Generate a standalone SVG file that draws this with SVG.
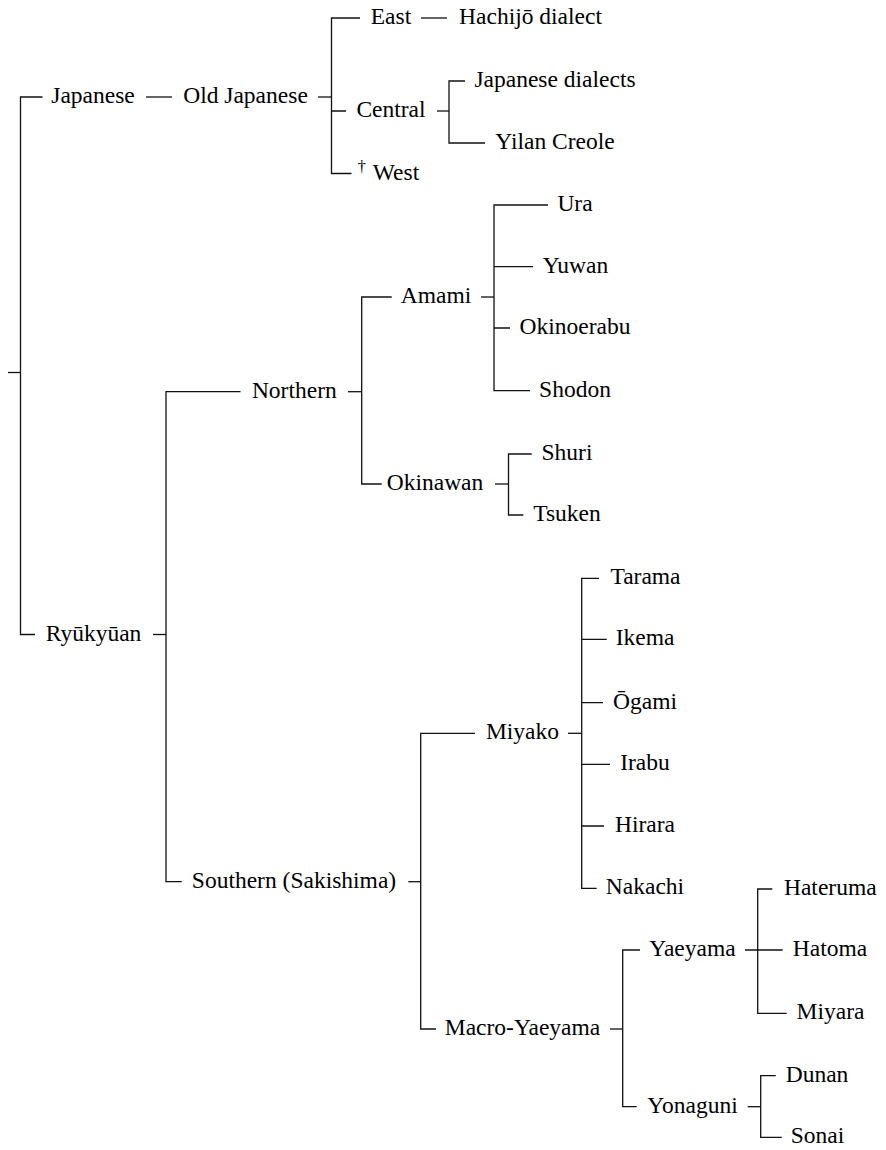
<svg xmlns="http://www.w3.org/2000/svg" width="886" height="1150" viewBox="0 0 886 1150">
  <style>
    .edge { fill: none; stroke: #111; stroke-width: 1.3; }
    .lbl { font-size: 23.5px; fill: #000; text-anchor: middle; }
    .sup { font-size: 17px; fill: #000; }
  </style>
  <rect width="886" height="1150" fill="#fff"/>

  <!-- tree connectors -->
  <g id="connectors" class="edge">
    <path d="M8,372.5 H20.5"/>
    <path d="M42.5,97 H20.5 V634.5 H35"/>
    <path d="M146,97 H172"/>
    <path d="M318,97 H331.5"/>
    <path d="M360,18 H331.5 V173.5 H351.5 M331.5,111 H346"/>
    <path d="M421,18 H447"/>
    <path d="M437,111 H449"/>
    <path d="M465,81 H449 V143 H485"/>
    <path d="M153,634.5 H166"/>
    <path d="M240.5,391.7 H166 V881.7 H181.7"/>
    <path d="M348,391.7 H361.7"/>
    <path d="M391.7,297 H361.7 V484 H381.7"/>
    <path d="M481,297 H494"/>
    <path d="M548,205 H494 V390.7 H530 M494,266.7 H533 M494,328 H510"/>
    <path d="M495,484 H508.5"/>
    <path d="M531.7,454 H508.5 V515 H523.3"/>
    <path d="M408.3,881.7 H420.7"/>
    <path d="M475,733.3 H420.7 V1029 H436"/>
    <path d="M568,733.3 H581.7"/>
    <path d="M599,578.3 H581.7 V888.3 H596.7 M581.7,639.3 H606.7 M581.7,702.7 H603 M581.7,764.3 H610 M581.7,826 H604"/>
    <path d="M610,1029 H622.7"/>
    <path d="M640,950 H622.7 V1106.7 H636.7"/>
    <path d="M745,950 H782.7"/>
    <path d="M772.3,889 H757.7 V1013.3 H786.7"/>
    <path d="M747.7,1106.7 H760.7"/>
    <path d="M775.7,1075.7 H760.7 V1137.3 H781.7"/>
  </g>

  <!-- language nodes -->
  <g font-family="'Liberation Serif', 'DejaVu Serif', serif">
  <g id="japanese"><text class="lbl" x="93" y="103">Japanese</text></g>
  <g id="old-japanese"><text class="lbl" x="245.5" y="103">Old Japanese</text></g>
  <g id="east"><text class="lbl" x="391" y="24">East</text></g>
  <g id="hachijo"><text class="lbl" x="530.5" y="24">Hachijō dialect</text></g>
  <g id="central"><text class="lbl" x="391" y="117">Central</text></g>
  <g id="japanese-dialects"><text class="lbl" x="555" y="87">Japanese dialects</text></g>
  <g id="yilan-creole"><text class="lbl" x="555" y="149">Yilan Creole</text></g>
  <g id="west">
    <text class="sup" x="357.5" y="172">†</text>
    <text class="lbl" x="396" y="179.5">West</text>
  </g>

  <g id="ryukyuan"><text class="lbl" x="93.5" y="640.5">Ryūkyūan</text></g>
  <g id="northern"><text class="lbl" x="294.3" y="397.7">Northern</text></g>
  <g id="amami"><text class="lbl" x="436" y="303">Amami</text></g>
  <g id="ura"><text class="lbl" x="575" y="211">Ura</text></g>
  <g id="yuwan"><text class="lbl" x="575.5" y="272.7">Yuwan</text></g>
  <g id="okinoerabu"><text class="lbl" x="575" y="334">Okinoerabu</text></g>
  <g id="shodon"><text class="lbl" x="575" y="396.7">Shodon</text></g>
  <g id="okinawan"><text class="lbl" x="435" y="490">Okinawan</text></g>
  <g id="shuri"><text class="lbl" x="567" y="460">Shuri</text></g>
  <g id="tsuken"><text class="lbl" x="567" y="521">Tsuken</text></g>

  <g id="southern"><text class="lbl" x="294" y="887.7">Southern (Sakishima)</text></g>
  <g id="miyako"><text class="lbl" x="522.5" y="739.3">Miyako</text></g>
  <g id="tarama"><text class="lbl" x="645.5" y="584.3">Tarama</text></g>
  <g id="ikema"><text class="lbl" x="645" y="645.3">Ikema</text></g>
  <g id="ogami"><text class="lbl" x="645" y="708.7">Ōgami</text></g>
  <g id="irabu"><text class="lbl" x="645" y="770.3">Irabu</text></g>
  <g id="hirara"><text class="lbl" x="645" y="832">Hirara</text></g>
  <g id="nakachi"><text class="lbl" x="645" y="894.3">Nakachi</text></g>
  <g id="macro-yaeyama"><text class="lbl" x="522.5" y="1035">Macro-Yaeyama</text></g>
  <g id="yaeyama"><text class="lbl" x="692.5" y="956">Yaeyama</text></g>
  <g id="yonaguni"><text class="lbl" x="692.5" y="1112.7">Yonaguni</text></g>
  <g id="hateruma"><text class="lbl" x="830.3" y="895">Hateruma</text></g>
  <g id="hatoma"><text class="lbl" x="830" y="956">Hatoma</text></g>
  <g id="miyara"><text class="lbl" x="830.5" y="1019.3">Miyara</text></g>
  <g id="dunan"><text class="lbl" x="817" y="1081.7">Dunan</text></g>
  <g id="sonai"><text class="lbl" x="817.5" y="1143.3">Sonai</text></g>
  </g>
</svg>
